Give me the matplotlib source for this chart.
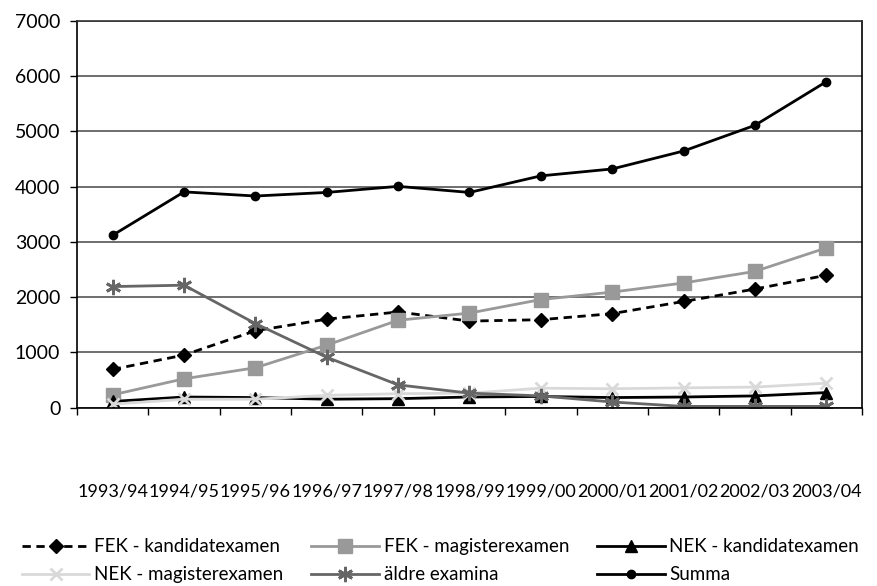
import numpy as np
import matplotlib
matplotlib.use("Agg")
import matplotlib.pyplot as plt
from matplotlib.ticker import FixedLocator

plt.rcParams['font.family'] = ['Lato', 'DejaVu Sans']

years = ["1993/94", "1994/95", "1995/96", "1996/97", "1997/98", "1998/99",
         "1999/00", "2000/01", "2001/02", "2002/03", "2003/04"]

fek_kandidat = [690, 950, 1390, 1600, 1730, 1565, 1590, 1700, 1920, 2145, 2395]
fek_magister = [230, 520, 720, 1130, 1580, 1710, 1955, 2090, 2255, 2465, 2890]
nek_kandidat = [110, 190, 180, 150, 160, 190, 200, 180, 190, 210, 270]
nek_magister = [60, 150, 150, 220, 250, 260, 350, 340, 355, 370, 440]
aldre_examina = [2190, 2215, 1520, 910, 410, 260, 210, 100, 20, 20, 20]
summa = [3120, 3905, 3830, 3895, 4005, 3895, 4195, 4320, 4645, 5110, 5900]

fig = plt.figure(figsize=(8.78, 5.86), dpi=100)
ax = fig.add_axes([0.0877, 0.3046, 0.894, 0.6596])

x = np.arange(len(years))

ax.plot(x, fek_kandidat, color='black', linestyle=(0, (3, 2)), linewidth=2,
        marker='D', markersize=7, label='FEK - kandidatexamen')
ax.plot(x, fek_magister, color='#999999', linewidth=2,
        marker='s', markersize=10, label='FEK - magisterexamen')
ax.plot(x, nek_kandidat, color='black', linewidth=2,
        marker='^', markersize=9, label='NEK - kandidatexamen')
ax.plot(x, nek_magister, color='#d9d9d9', linewidth=2,
        marker='x', markersize=9, markeredgewidth=2, label='NEK - magisterexamen')
ax.plot(x, aldre_examina, color='#666666', linewidth=2,
        marker=(6, 2, 0), markersize=11, markeredgewidth=2, label='äldre examina')
ax.plot(x, summa, color='black', linewidth=2,
        marker='o', markersize=6, label='Summa')

ax.set_xlim(-0.5, len(years) - 0.5)
ax.set_ylim(0, 7000)
ax.set_yticks(np.arange(0, 7001, 1000))
ax.set_xticks(x)
ax.set_xticklabels(years)
ax.xaxis.set_minor_locator(FixedLocator(np.arange(-0.5, len(years), 1)))
ax.tick_params(axis='x', which='major', length=0, pad=55, labelsize=13)
ax.tick_params(axis='x', which='minor', length=5, width=1, direction='out')
ax.tick_params(axis='y', length=5, width=1, direction='out', labelsize=14, pad=7)

ax.grid(axis='y', color='#555555', linewidth=1.2)
ax.set_axisbelow(True)
for side in ['left', 'bottom', 'right']:
    ax.spines[side].set_color('black')
    ax.spines[side].set_linewidth(1.2)
ax.spines['top'].set_color('#333333')
ax.spines['top'].set_linewidth(1.2)

# row-wise legend order: matplotlib fills columns first
handles, labels = ax.get_legend_handles_labels()
order = [0, 3, 1, 4, 2, 5]
fig.legend([handles[i] for i in order], [labels[i] for i in order],
           loc='lower left', bbox_to_anchor=(0.01, -0.018), ncol=3,
           frameon=False, fontsize=13.5, handlelength=3.6, borderpad=0.2,
           columnspacing=1.5, handletextpad=0.25, labelspacing=0.6)

fig.savefig('out.png', dpi=100)
